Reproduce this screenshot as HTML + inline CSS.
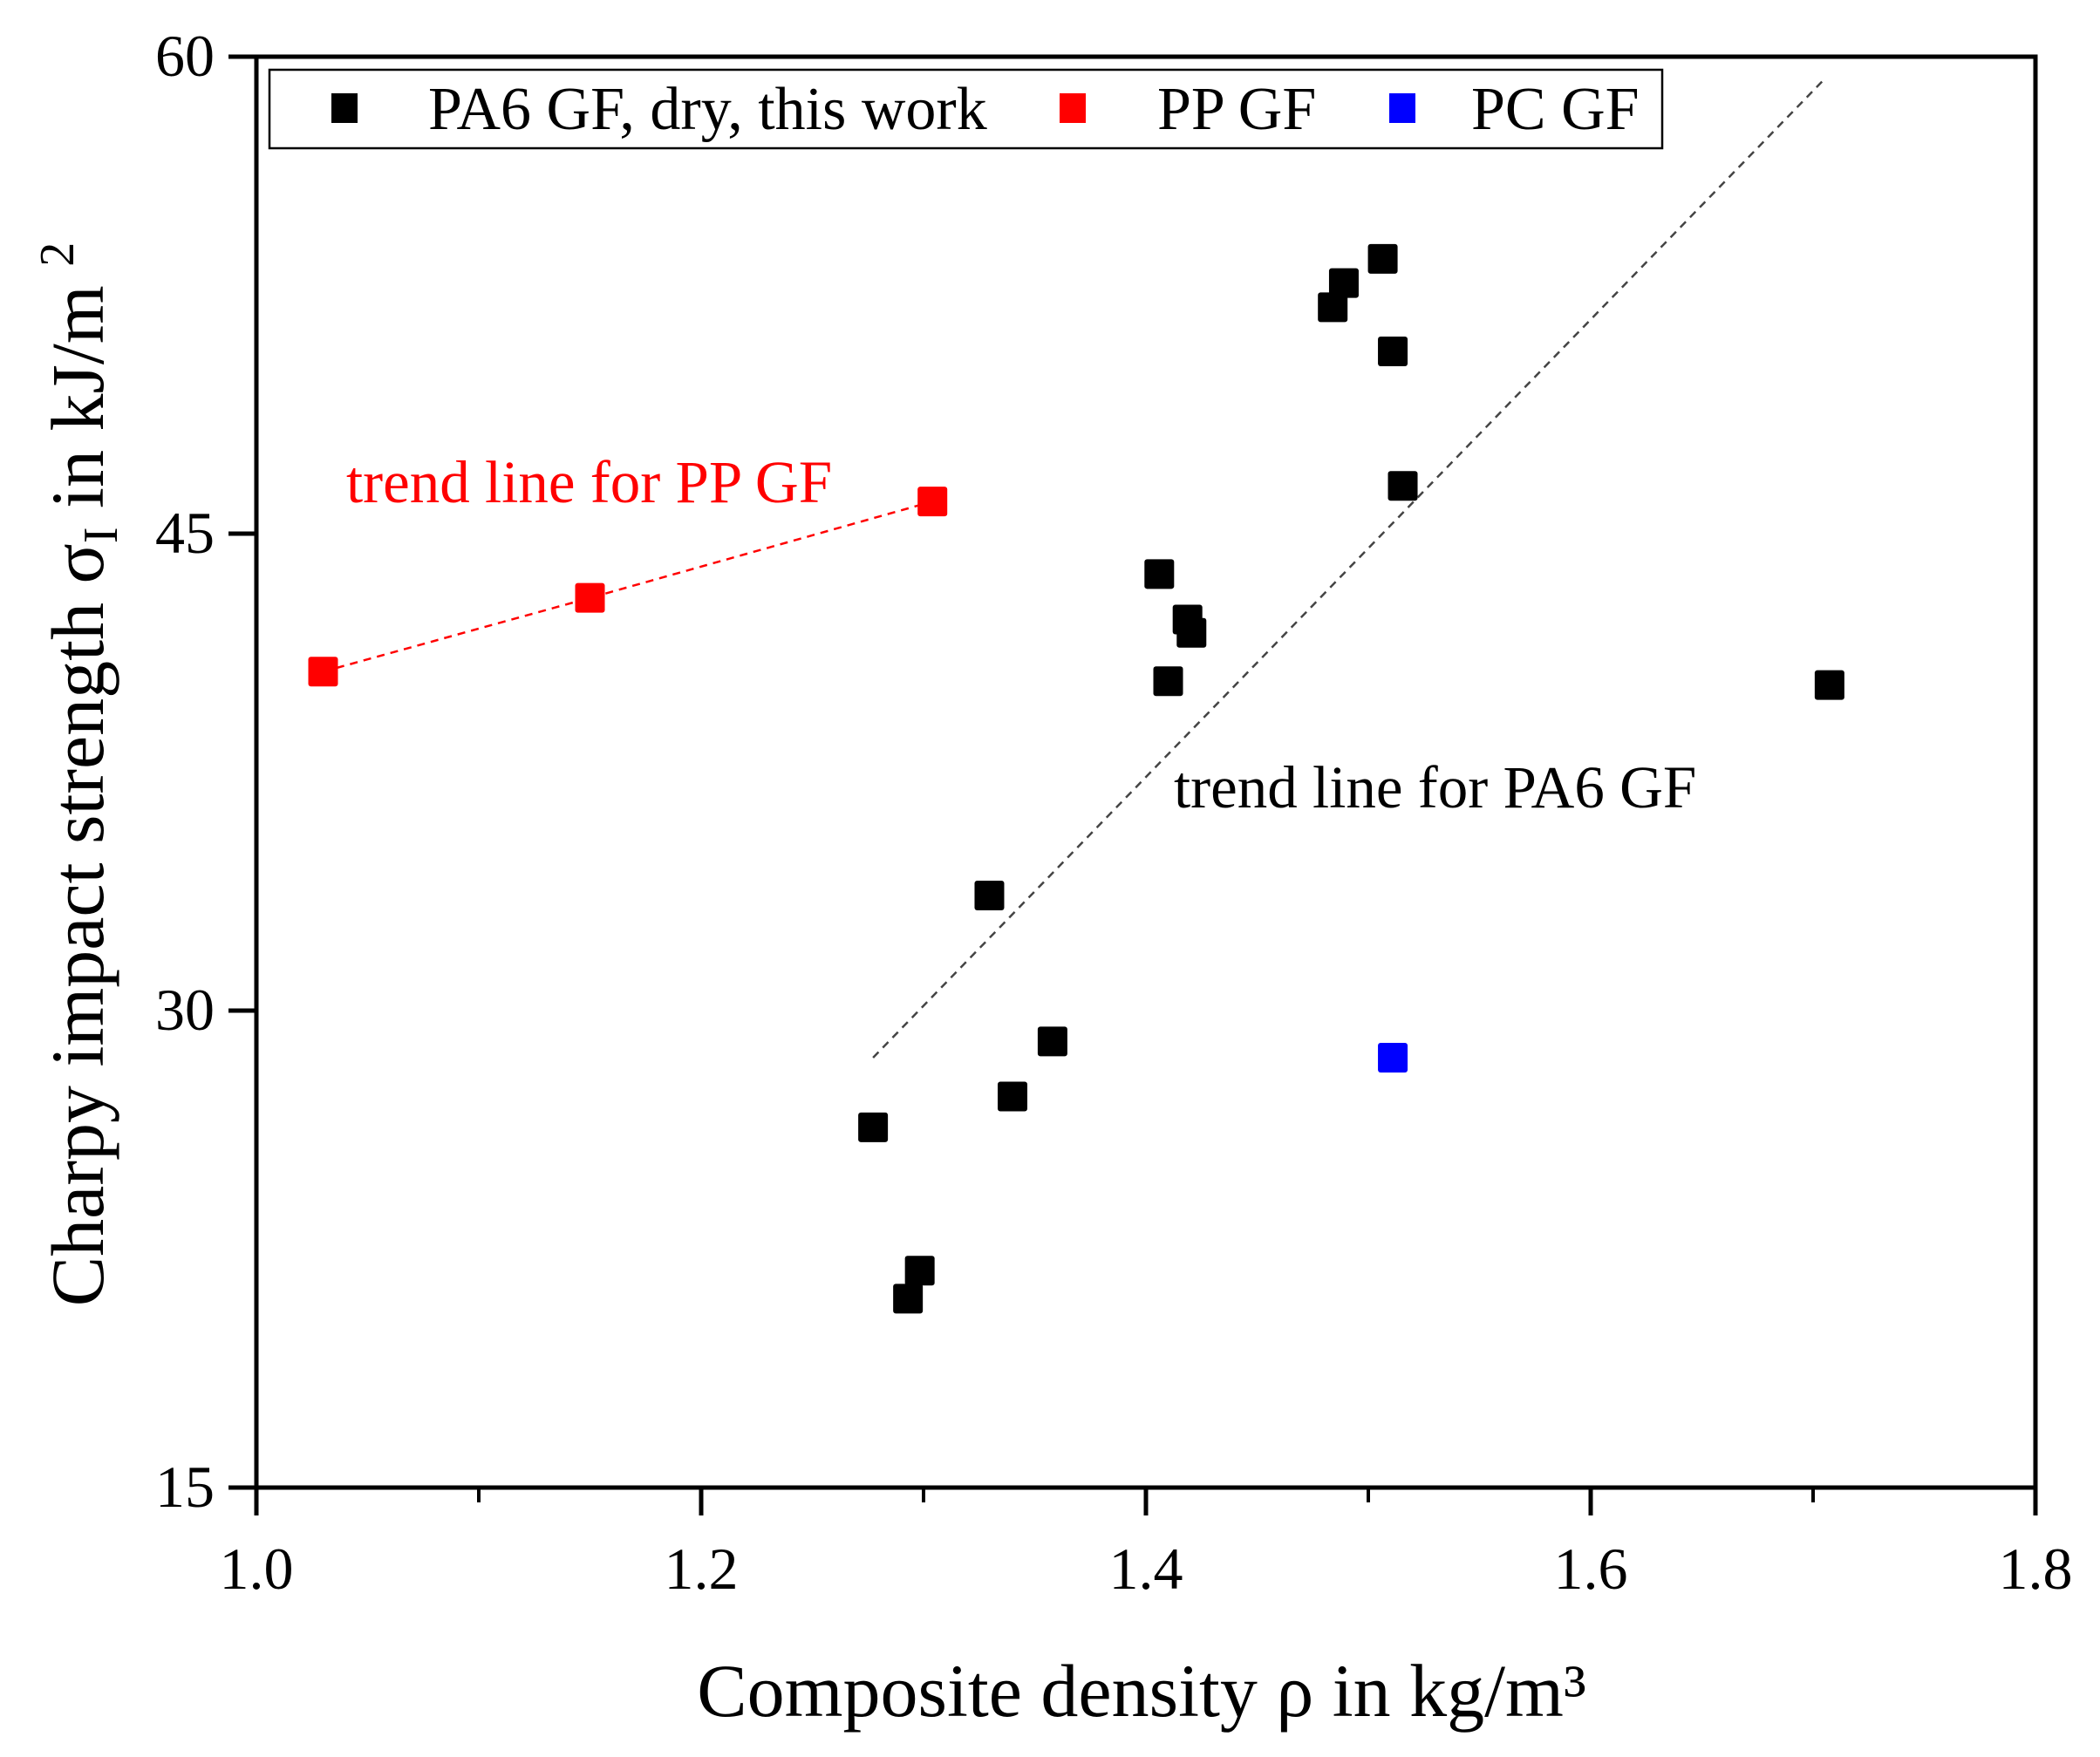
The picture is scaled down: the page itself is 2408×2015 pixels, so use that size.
<!DOCTYPE html>
<html><head><meta charset="utf-8"><style>
html,body{margin:0;padding:0;background:#fff}
svg{display:block}
text{font-family:"Liberation Serif",serif;fill:#000}
</style></head><body>
<svg id="chart" width="2408" height="2015" viewBox="0 0 2408 2015" xmlns="http://www.w3.org/2000/svg">
<g id="marks"></g>
</svg>
<script>
const xTicks=[1.0,1.2,1.4,1.6,1.8];
const xTickLabels=["1.0","1.2","1.4","1.6","1.8"];
const xMinor=[1.1,1.3,1.5,1.7];
const yTicks=[15,30,45,60];
const yTickLabels=["15","30","45","60"];
const pa6X=[1.5065,1.489,1.484,1.511,1.5155,1.406,1.4187,1.4205,1.410,1.7074,1.3296,1.358,1.340,1.2773,1.2983,1.293];
const pa6Y=[53.64,52.88,52.12,50.73,46.5,43.73,42.3,41.88,40.36,40.24,33.62,29.03,27.3,26.33,21.82,20.94];
const ppX=[1.030,1.150,1.304];
const ppY=[40.66,42.98,46.01];
const pcX=[1.511];
const pcY=[28.52];
const pa6TrendX=[1.2773,1.7056];
const pa6TrendY=[28.52,59.33];

const X0=294,X1=2334,Y0=1706,Y1=65;
const sx=v=>X0+(v-1.0)/(0.8)*(X1-X0);
const sy=v=>Y0-(v-15)/45*(Y0-Y1);
const NS="http://www.w3.org/2000/svg";
const svg=document.getElementById('chart');
function mk(tag,attrs,parent){const e=document.createElementNS(NS,tag);for(const k in attrs)e.setAttribute(k,attrs[k]);(parent||svg).appendChild(e);return e;}

let e=mk('rect',{x:X0,y:Y1,width:X1-X0,height:Y0-Y1,fill:'none',stroke:'#000','stroke-width':5});



xTicks.forEach((t,i)=>{
  const l=mk('line',{x1:sx(t),x2:sx(t),y1:Y0,y2:Y0+32,stroke:'#000','stroke-width':5});
  
  
  const tx=mk('text',{x:sx(t),y:1822,'font-size':68,'text-anchor':'middle'});
  tx.textContent=xTickLabels[i];
  
  
});
xMinor.forEach(t=>{
  const l=mk('line',{x1:sx(t),x2:sx(t),y1:Y0,y2:Y0+17,stroke:'#000','stroke-width':4});
  
  
});
yTicks.forEach((t,i)=>{
  const l=mk('line',{x1:X0-32,x2:X0,y1:sy(t),y2:sy(t),stroke:'#000','stroke-width':5});
  
  
  const tx=mk('text',{x:246,y:sy(t)+22,'font-size':68,'text-anchor':'end'});
  tx.textContent=yTickLabels[i];
  
  
});

e=mk('line',{x1:sx(pa6TrendX[0]),y1:sy(pa6TrendY[0]),x2:sx(pa6TrendX[1]),y2:sy(pa6TrendY[1]),stroke:'#444','stroke-width':2.5,'stroke-dasharray':'9 7'});


e=mk('polyline',{points:ppX.map((v,i)=>sx(v)+','+sy(ppY[i])).join(' '),fill:'none',stroke:'#f00','stroke-width':2.5,'stroke-dasharray':'9 7'});



function markers(xs,ys,color,name){
  xs.forEach((v,i)=>{
    const r=mk('rect',{x:sx(v)-17,y:sy(ys[i])-17,width:34,height:34,rx:3,fill:color});
    
    
  });
}
markers(pa6X,pa6Y,'#000','pa6-point');
markers(ppX,ppY,'#f00','pp-point');
markers(pcX,pcY,'#00f','pc-point');

e=mk('rect',{x:309,y:80,width:1597,height:90,fill:'#fff',stroke:'#000','stroke-width':2.5});


[[395,491,'#000','PA6 GF, dry, this work','legend-entry-pa6'],[1230,1327,'#f00','PP GF','legend-entry-pp'],[1608,1687,'#00f','PC GF','legend-entry-pc']].forEach(a=>{
  const r=mk('rect',{x:a[0]-15,y:107,width:30,height:34,fill:a[2]});
  
  
  const t=mk('text',{x:a[1],y:148,'font-size':70});
  t.textContent=a[3];
  
  
});

e=mk('text',{x:397,y:576,'font-size':69,fill:'#f00'});e.textContent='trend line for PP GF';e.style.fill='#f00';


e=mk('text',{x:1346,y:926,'font-size':69});e.textContent='trend line for PA6 GF';



e=mk('text',{x:1309,y:1968,'font-size':86,'text-anchor':'middle'});e.textContent='Composite density ρ in kg/m³';


e=mk('text',{x:0,y:0,'font-size':86,'text-anchor':'middle',transform:'translate(118,888) rotate(-90)'});
e.innerHTML='Charpy impact strength σ<tspan font-size="56" dy="16">I</tspan><tspan dy="-16"> in kJ/m </tspan><tspan font-size="56" dy="-34">2</tspan>';


</script>
</body></html>
